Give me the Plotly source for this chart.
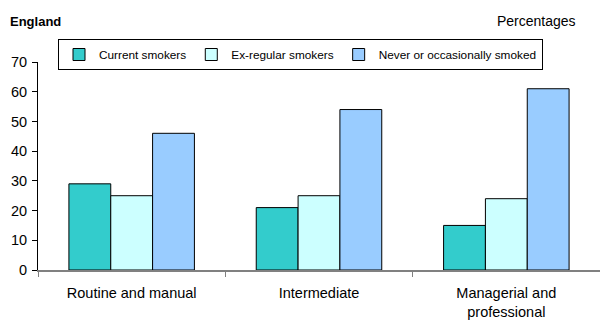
import plotly.graph_objects as go

# Smoking status by socio-economic classification, England (percentages)
categories = ["Routine and manual", "Intermediate", "Managerial and<br>professional"]
current_smokers = [29, 21, 15]
ex_regular_smokers = [25, 25, 24]
never_smoked = [46, 54, 61]

series_names = ["Current smokers", "Ex-regular smokers", "Never or occasionally smoked"]
series_colors = ["#33CCCC", "#CCFFFF", "#99CCFF"]
y_ticks = [0, 10, 20, 30, 40, 50, 60, 70]

FONT = "Liberation Sans, Arial, sans-serif"

fig = go.Figure()
for name, vals, col in zip(series_names,
                           [current_smokers, ex_regular_smokers, never_smoked],
                           series_colors):
    fig.add_trace(go.Bar(
        x=categories, y=vals, name=name,
        marker=dict(color=col, line=dict(color="#000000", width=1)),
    ))

fig.update_layout(
    width=600, height=320,
    margin=dict(l=38, r=0, t=62, b=50, autoexpand=False),
    paper_bgcolor="white", plot_bgcolor="white",
    barmode="group", bargap=0.33, bargroupgap=0,
    font=dict(family=FONT, size=14, color="#000000"),
    showlegend=True,
    legend=dict(
        orientation="h",
        xref="container", yref="container",
        x=58 / 600, y=1 - 39 / 320, xanchor="left", yanchor="top",
        bordercolor="#000000", borderwidth=1, bgcolor="white",
        font=dict(size=11.8),
        itemwidth=30,
    ),
)

fig.update_xaxes(
    showline=True, linecolor="#808080", linewidth=1.5,
    ticks="outside", tickson="boundaries", ticklen=5, tickcolor="#808080",
    showgrid=False, zeroline=False,
    tickfont=dict(size=14.5),
    ticklabelstandoff=9,
    range=[-0.5, 2.5],
)
fig.update_yaxes(
    range=[0, 70], tickvals=y_ticks,
    showline=True, linecolor="#000000", linewidth=1,
    ticks="outside", ticklen=5, tickcolor="#000000",
    showgrid=False, zeroline=False,
    tickfont=dict(size=14.5),
    ticklabelstandoff=2,
)

fig.add_annotation(
    text="<b>England</b>", xref="paper", yref="paper",
    x=0, y=1, xshift=-30, yshift=41, xanchor="left", yanchor="middle",
    showarrow=False, font=dict(size=13),
)
fig.add_annotation(
    text="Percentages", xref="paper", yref="paper",
    x=1, y=1, xshift=-22, yshift=41, xanchor="right", yanchor="middle",
    showarrow=False, font=dict(size=14),
)

fig.write_html("out.html")
